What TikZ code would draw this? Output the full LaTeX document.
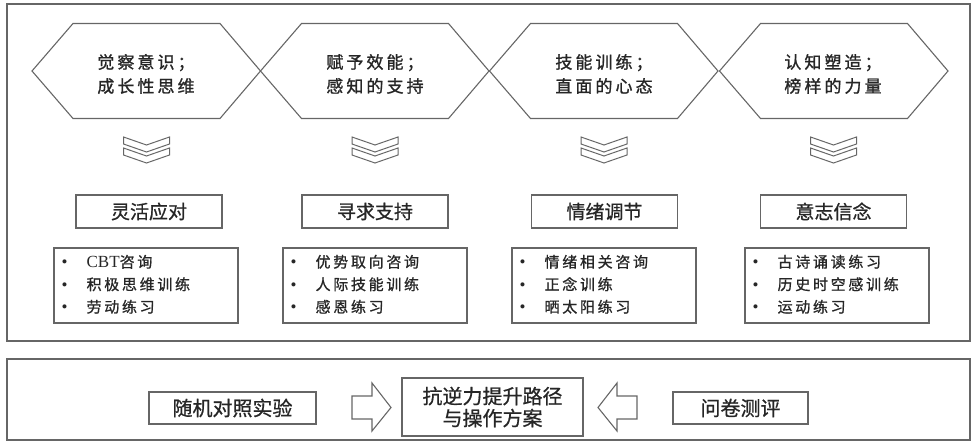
\documentclass[tikz,border=0pt]{standalone}
\usepackage{fontspec}
\setmainfont{Noto Sans CJK SC}
\newfontfamily\latinserif{Liberation Serif}
\definecolor{linegray}{HTML}{666666}
\definecolor{txtgray}{HTML}{262626}
\newcommand{\blt}{{\latinserif\addfontfeature{LetterSpace=0}\fontsize{17}{22.5}\selectfont\textbullet}}
\newcommand{\itemlist}[3]{%
  \begin{tabular}{@{}p{25pt}@{}l@{}}
  \blt & #1\\ \blt & #2\\ \blt & #3
  \end{tabular}}
\tikzset{
  frame/.style={draw=linegray, line width=1.2pt},
  shapeline/.style={draw=linegray, line width=1.1pt, line join=miter},
  hextext/.style={align=left, text=txtgray, inner sep=0pt,
    font=\fontsize{17}{24}\selectfont\addfontfeature{LetterSpace=18,FakeBold=1.2}},
  catbox/.style={draw=linegray, line width=1.2pt, minimum width=146pt,
    minimum height=33pt, inner sep=0pt, text=txtgray,
    font=\fontsize{19}{19}\selectfont\addfontfeature{FakeBold=0.8}},
  listbox/.style={draw=linegray, line width=1.2pt, minimum width=184pt,
    minimum height=75pt, inner sep=0pt},
  listtext/.style={anchor=west, inner sep=0pt, text=txtgray,
    font=\fontsize{15}{22.5}\selectfont\addfontfeature{LetterSpace=18,FakeBold=1}},
  botbox/.style={draw=linegray, line width=1.2pt, inner sep=0pt,
    text=txtgray, font=\fontsize{20}{22}\selectfont\addfontfeature{FakeBold=0.8}, align=center},
}
\begin{document}
\begin{tikzpicture}[x=1pt,y=-1pt]
\useasboundingbox (0,0) rectangle (972,441);
% outer frames
\draw[frame] (7,4) rectangle (970,341);
\draw[frame] (7,359) rectangle (970,440);
% hexagons
\foreach \l in {32,260.5,489.5,719.5}{
  \draw[shapeline] (\l,71) -- (\l+41,23.5) -- (\l+188,23.5) -- (\l+228.5,71)
     -- (\l+188,118.5) -- (\l+41,118.5) -- cycle;
}
\node[hextext] (h1) at (146,74) {觉察意识；\\成长性思维};
\node[hextext] (h2) at (375,74) {赋予效能；\\感知的支持};
\node[hextext] (h3) at (604,74) {技能训练；\\直面的心态};
\node[hextext] (h4) at (833,74) {认知塑造；\\榜样的力量};
% chevrons
\foreach \c in {146.5,375,604,833.5}{
  \draw[shapeline, line width=1pt] (\c-23,137) -- (\c,145) -- (\c+23,137) -- (\c+23,144)
     -- (\c,152) -- (\c-23,144) -- cycle;
  \draw[shapeline, line width=1pt] (\c-23,148) -- (\c,156) -- (\c+23,148) -- (\c+23,155)
     -- (\c,163) -- (\c-23,155) -- cycle;
}
% category boxes
\node[catbox] (c1) at (149,211.5) {灵活应对};
\node[catbox] (c2) at (375,211.5) {寻求支持};
\node[catbox] (c3) at (604.5,211.5) {情绪调节};
\node[catbox] (c4) at (833.5,211.5) {意志信念};
% list boxes
\node[listbox] (l1) at (146,285.5) {};
\node[listbox] (l2) at (375,285.5) {};
\node[listbox] (l3) at (604,285.5) {};
\node[listbox] (l4) at (837,285.5) {};
\node[listtext] (t1) at ([xshift=8pt]l1.west) {\itemlist{{\latinserif\addfontfeature{LetterSpace=0}\fontsize{17}{22.5}\selectfont CBT}咨询}{积极思维训练}{劳动练习}};
\node[listtext] (t2) at ([xshift=8pt]l2.west) {\itemlist{优势取向咨询}{人际技能训练}{感恩练习}};
\node[listtext] (t3) at ([xshift=8pt]l3.west) {\itemlist{情绪相关咨询}{正念训练}{晒太阳练习}};
\node[listtext] (t4) at ([xshift=8pt]l4.west) {\itemlist{古诗诵读练习}{历史时空感训练}{运动练习}};
% bottom row
\node[botbox, minimum width=167pt, minimum height=32pt] (b1) at (232.5,408) {随机对照实验};
\node[botbox, minimum width=181pt, minimum height=58pt] (b2) at (492.5,407) {抗逆力提升路径\\与操作方案};
\node[botbox, minimum width=135pt, minimum height=32pt] (b3) at (740.5,408) {问卷测评};
% block arrows
\draw[shapeline] (352,396) -- (372,396) -- (372,383) -- (391,407.5) -- (372,431)
   -- (372,419) -- (352,419) -- cycle;
\draw[shapeline] (637,396) -- (617,396) -- (617,383) -- (598,407.5) -- (617,431)
   -- (617,419) -- (637,419) -- cycle;
\end{tikzpicture}
\end{document}
